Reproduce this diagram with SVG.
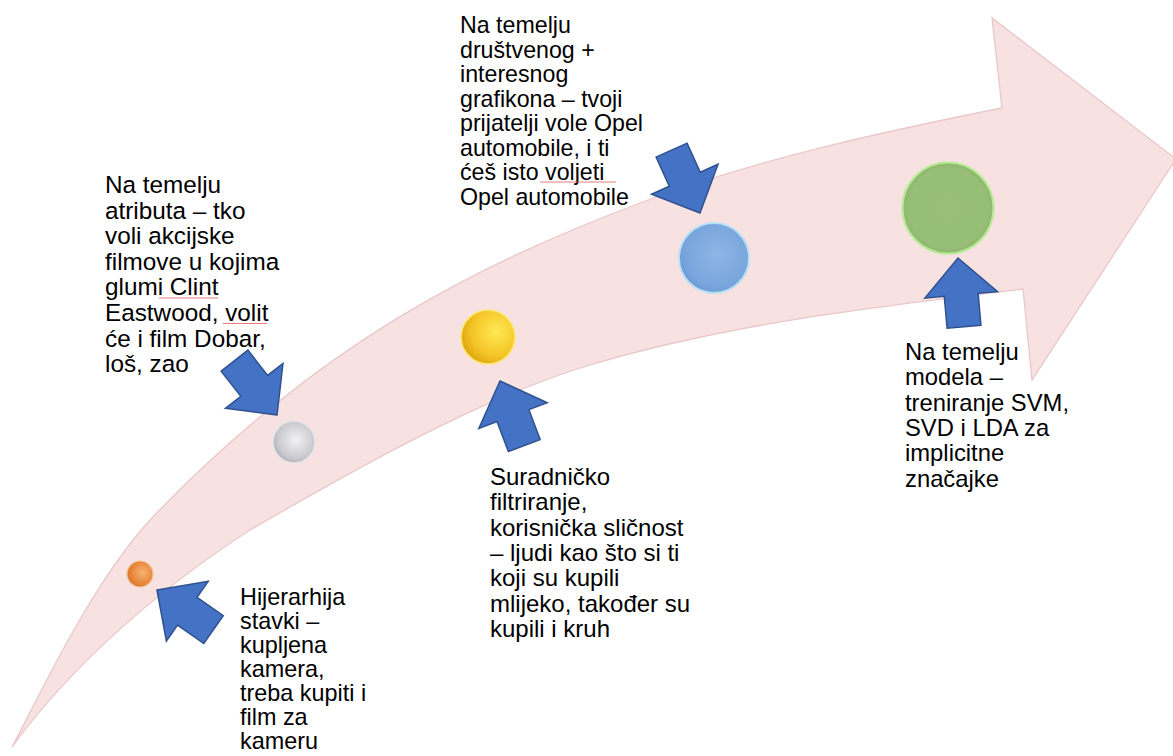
<svg xmlns="http://www.w3.org/2000/svg" width="1173" height="756" viewBox="0 0 1173 756">
<style>
.lbl{font-family:"Liberation Sans",Arial,sans-serif;fill:#000}
.barrow{fill:#4472C4;stroke:#2F528F;stroke-width:1.5;stroke-linejoin:miter}
.squig{stroke:#E05A5A;stroke-width:1;fill:none;opacity:0.8}
</style>
<defs>
<polygon id="ba" points="0,0 37,-36.5 37,-17 69,-17 69,17 37,17 37,36.5"/>
<radialGradient id="gOr" cx="0.6" cy="0.45" r="0.6">
<stop offset="0" stop-color="#F7B375"/><stop offset="0.7" stop-color="#E8873A"/><stop offset="1" stop-color="#D9752C"/>
</radialGradient>
<radialGradient id="gGr" cx="0.55" cy="0.45" r="0.6">
<stop offset="0" stop-color="#F2F2F4"/><stop offset="0.75" stop-color="#C9C8CE"/><stop offset="1" stop-color="#A9A8B0"/>
</radialGradient>
<radialGradient id="gYe" cx="0.65" cy="0.4" r="0.65">
<stop offset="0" stop-color="#FFEA55"/><stop offset="0.7" stop-color="#F5C426"/><stop offset="1" stop-color="#E0A912"/>
</radialGradient>
<radialGradient id="gBl" cx="0.55" cy="0.45" r="0.6">
<stop offset="0" stop-color="#8FB6E6"/><stop offset="0.75" stop-color="#79A6DC"/><stop offset="1" stop-color="#6C98CF"/>
</radialGradient>
<radialGradient id="gGn" cx="0.5" cy="0.5" r="0.55">
<stop offset="0" stop-color="#98BE78"/><stop offset="0.8" stop-color="#96BE76"/><stop offset="1" stop-color="#86AE66"/>
</radialGradient>
</defs>
<rect width="1173" height="756" fill="#FFFFFF"/>
<g id="timeline-arrow">
<path d="M12,747 C42,691 90,586 150,520 C320,341.5 480,263.8 640,203 C760,157.4 902,128 1002,108 L992,18 L1176,159 L1032,380 L1023,289 C883,306 730,323 590,365 C480,398 350,472 250,530 C200,562 90,640 12,747 Z" fill="#F8E1E1" stroke="#E9C8C9" stroke-width="1.3" stroke-linejoin="miter"/>
</g>
<g id="connectors">
<use href="#ba" class="barrow" transform="translate(157,590) rotate(35)"/>
<use href="#ba" class="barrow" transform="translate(277,415) rotate(232)"/>
<use href="#ba" class="barrow" transform="translate(500,381) rotate(69.4)"/>
<use href="#ba" class="barrow" transform="translate(700,213) rotate(245.7)"/>
<use href="#ba" class="barrow" transform="translate(958,258) rotate(85)"/>
</g>
<g id="node-hijerarhija">
<circle cx="140" cy="574" r="13" fill="url(#gOr)" stroke="#F3C49A" stroke-width="1.2"/>
<text class="lbl" font-size="23.4" x="240"><tspan x="240" y="605">Hijerarhija</tspan><tspan x="240" y="629">stavki –</tspan><tspan x="240" y="653">kupljena</tspan><tspan x="240" y="677">kamera,</tspan><tspan x="240" y="701">treba kupiti i</tspan><tspan x="240" y="725">film za</tspan><tspan x="240" y="749">kameru</tspan></text>
</g>
<g id="node-atributa">
<circle cx="294" cy="442" r="21" fill="url(#gGr)" stroke="#E6E6EA" stroke-width="1.6"/>
<text class="lbl" font-size="24.3" x="105"><tspan x="105" y="193">Na temelju</tspan><tspan x="105" y="218.6">atributa – tko</tspan><tspan x="105" y="244.2">voli akcijske</tspan><tspan x="105" y="269.8">filmove u kojima</tspan><tspan x="105" y="295.4">glumi Clint</tspan><tspan x="105" y="321">Eastwood, volit</tspan><tspan x="105" y="346.6">će i film Dobar,</tspan><tspan x="105" y="372.2">loš, zao</tspan></text>
<path class="squig" d="M159,298 L218,298"/>
<path class="squig" d="M223,323.5 L267,323.5"/>
</g>
<g id="node-suradnicko">
<circle cx="488" cy="337" r="27" fill="url(#gYe)" stroke="#FFE97A" stroke-width="1.6"/>
<text class="lbl" font-size="24" x="490"><tspan x="490" y="485">Suradničko</tspan><tspan x="490" y="510.3">filtriranje,</tspan><tspan x="490" y="535.6">korisnička sličnost</tspan><tspan x="490" y="560.9">– ljudi kao što si ti</tspan><tspan x="490" y="586.2">koji su kupili</tspan><tspan x="490" y="611.5">mlijeko, također su</tspan><tspan x="490" y="636.8">kupili i kruh</tspan></text>
</g>
<g id="node-drustvenog">
<circle cx="714" cy="258" r="35" fill="url(#gBl)" stroke="#B9E0F6" stroke-width="2"/>
<text class="lbl" font-size="23.2" x="460"><tspan x="460" y="33">Na temelju</tspan><tspan x="460" y="57.5">društvenog +</tspan><tspan x="460" y="82">interesnog</tspan><tspan x="460" y="106.5">grafikona – tvoji</tspan><tspan x="460" y="131">prijatelji vole Opel</tspan><tspan x="460" y="155.5">automobile, i ti</tspan><tspan x="460" y="180">ćeš isto voljeti</tspan><tspan x="460" y="204.5">Opel automobile</tspan></text>
<path class="squig" d="M540,182 L616,182"/>
</g>
<g id="node-modela">
<circle cx="948" cy="208" r="45.5" fill="url(#gGn)" stroke="#B6EC94" stroke-width="2"/>
<text class="lbl" font-size="23.8" x="905"><tspan x="905" y="360">Na temelju</tspan><tspan x="905" y="385.3">modela –</tspan><tspan x="905" y="410.6">treniranje SVM,</tspan><tspan x="905" y="435.9">SVD i LDA za</tspan><tspan x="905" y="461.2">implicitne</tspan><tspan x="905" y="486.5">značajke</tspan></text>
</g>
</svg>
